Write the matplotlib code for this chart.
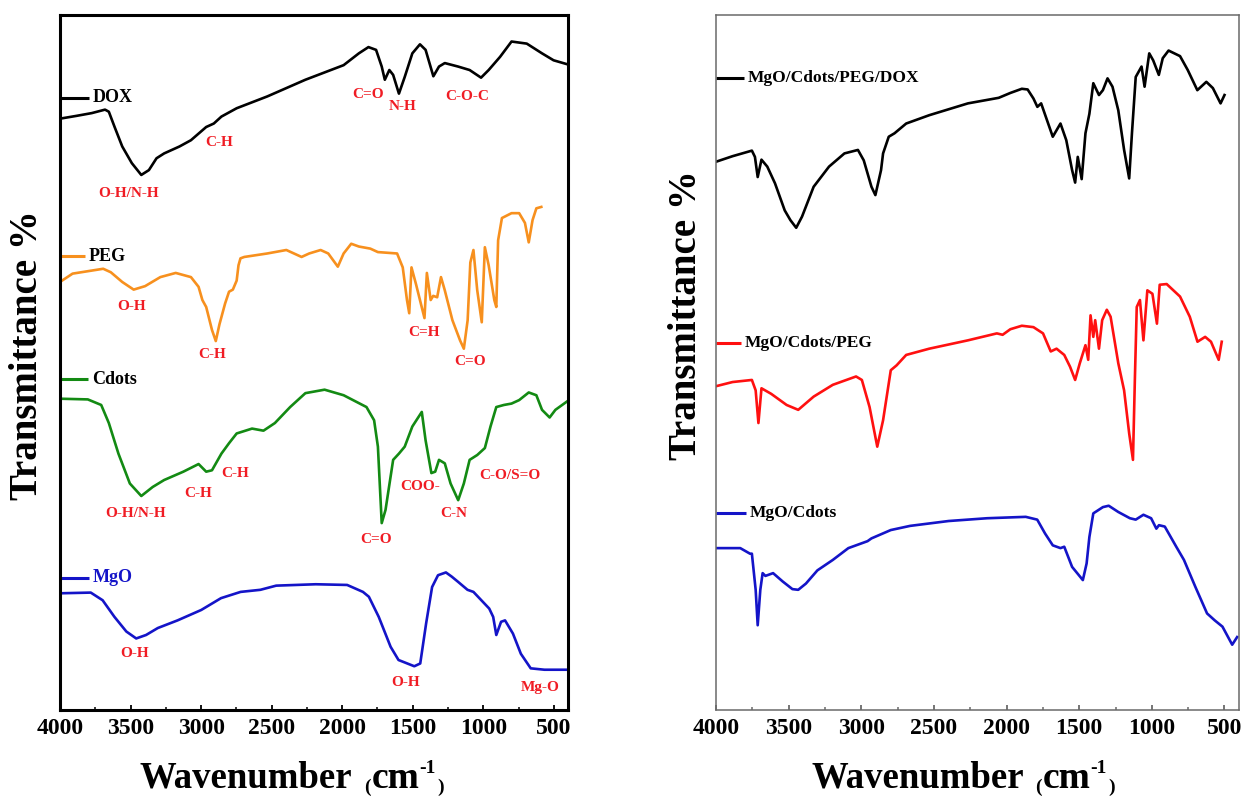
import numpy as np
import matplotlib.pyplot as plt
from matplotlib.ticker import MultipleLocator

plt.rcParams['font.family'] = ['Liberation Serif', 'DejaVu Serif']
plt.rcParams['font.weight'] = 'bold'

# ---- left panel: single components (stacked, arbitrary transmittance units) ----
dox_wn = [4000, 3884, 3775, 3681, 3654, 3613, 3559, 3491, 3424, 3370, 3316, 3262, 3153, 3072,
          2964, 2910, 2856, 2748, 2531, 2261, 1990, 1882, 1814, 1760, 1720, 1698, 1666, 1639,
          1598, 1557, 1503, 1449, 1409, 1354, 1314, 1273, 1179, 1097, 1016, 962, 881, 800,
          692, 584, 502, 400]
dox_t = [85.1, 85.5, 85.9, 86.4, 86.1, 83.9, 81.1, 78.7, 77.0, 77.7, 79.4, 80.1, 81.1, 82.0,
         83.9, 84.4, 85.4, 86.6, 88.3, 90.7, 92.8, 94.5, 95.4, 95.0, 92.6, 90.7, 92.1, 91.4,
         88.7, 91.1, 94.5, 95.8, 95.0, 91.2, 92.6, 93.1, 92.6, 92.1, 91.0, 92.1, 94.0, 96.2,
         95.9, 94.5, 93.5, 92.9]

peg_wn = [4000, 3911, 3694, 3640, 3559, 3478, 3397, 3289, 3180, 3072, 3018, 2991, 2964, 2923,
          2896, 2870, 2830, 2802, 2775, 2748, 2735, 2721, 2694, 2531, 2396, 2288, 2234, 2153,
          2099, 2031, 1990, 1936, 1882, 1801, 1747, 1611, 1571, 1541, 1525, 1509, 1476, 1449,
          1417, 1400, 1373, 1355, 1327, 1300, 1273, 1219, 1165, 1138, 1111, 1092, 1070, 1043,
          1011, 989, 962, 922, 908, 895, 868, 800, 746, 705, 678, 651, 624, 589]
peg_t = [61.6, 62.8, 63.5, 63.0, 61.6, 60.5, 61.0, 62.3, 62.9, 62.3, 60.9, 59.0, 58.0, 54.7,
         53.1, 55.5, 58.5, 60.2, 60.5, 61.8, 64.0, 65.0, 65.2, 65.7, 66.2, 65.2, 65.7, 66.2,
         65.7, 63.8, 65.7, 67.1, 66.7, 66.4, 65.9, 65.7, 63.7, 59.0, 57.1, 63.7, 61.2, 59.0,
         56.4, 62.9, 59.0, 59.6, 59.4, 62.3, 60.4, 56.1, 53.2, 52.0, 56.1, 64.4, 66.2, 60.4,
         55.8, 66.6, 64.0, 59.0, 58.0, 67.6, 70.8, 71.5, 71.5, 70.1, 67.3, 70.5, 72.2, 72.4]

cdots_wn = [4000, 3803, 3708, 3654, 3586, 3505, 3424, 3343, 3262, 3126, 3018, 2964, 2923, 2856,
            2802, 2748, 2639, 2558, 2477, 2369, 2261, 2125, 1990, 1828, 1774, 1747, 1720, 1693,
            1639, 1598, 1557, 1503, 1436, 1409, 1368, 1341, 1314, 1273, 1232, 1178, 1138, 1097,
            1043, 989, 949, 908, 854, 800, 746, 678, 624, 584, 530, 489, 400]
cdots_t = [44.8, 44.7, 43.9, 41.3, 36.9, 32.6, 30.8, 32.1, 33.1, 34.3, 35.4, 34.3, 34.5, 36.9,
           38.4, 39.8, 40.5, 40.2, 41.3, 43.6, 45.6, 46.1, 45.3, 43.6, 41.7, 37.9, 26.9, 28.8,
           36.0, 36.9, 37.9, 40.8, 42.9, 38.8, 34.1, 34.3, 36.0, 35.5, 32.6, 30.2, 32.6, 36.0,
           36.7, 37.7, 40.8, 43.6, 43.9, 44.1, 44.6, 45.7, 45.3, 43.2, 42.1, 43.2, 44.5]

mgo_wn = [4000, 3782, 3698, 3614, 3530, 3460, 3390, 3307, 3167, 2999, 2859, 2720, 2580, 2468,
          2188, 1965, 1853, 1811, 1741, 1657, 1601, 1489, 1447, 1405, 1363, 1321, 1265, 1224,
          1182, 1112, 1070, 958, 930, 908, 874, 846, 790, 734, 664, 567, 400]
mgo_t = [16.8, 16.9, 15.8, 13.4, 11.3, 10.3, 10.8, 11.8, 12.9, 14.4, 16.1, 17.0, 17.3, 17.9,
         18.1, 18.0, 17.0, 16.3, 13.4, 9.1, 7.2, 6.3, 6.7, 12.5, 17.7, 19.4, 19.8, 19.2,
         18.5, 17.3, 17.0, 14.6, 13.4, 10.8, 12.7, 12.9, 11.0, 8.1, 6.0, 5.8, 5.8]

# ---- right panel: composites ----
full_wn = [4000, 3886, 3753, 3732, 3713, 3687, 3647, 3594, 3527, 3488, 3448, 3408, 3328, 3222,
           3116, 3023, 2983, 2930, 2903, 2864, 2850, 2811, 2771, 2691, 2532, 2266, 2054, 1974,
           1895, 1855, 1815, 1788, 1762, 1722, 1682, 1629, 1589, 1549, 1528, 1510, 1483, 1457,
           1430, 1403, 1364, 1337, 1305, 1271, 1231, 1191, 1156, 1137, 1111, 1071, 1050, 1018,
           991, 952, 925, 885, 806, 753, 687, 625, 580, 527, 500]
full_t = [78.9, 79.7, 80.5, 79.6, 76.7, 79.2, 78.2, 75.8, 71.9, 70.5, 69.4, 71.0, 75.3, 78.2,
          80.1, 80.6, 79.1, 75.3, 74.1, 77.7, 80.1, 82.5, 83.0, 84.4, 85.6, 87.3, 88.1, 88.8,
          89.4, 89.3, 88.0, 86.8, 87.3, 84.9, 82.5, 84.4, 82.0, 77.7, 75.9, 79.6, 76.4, 83.0,
          85.8, 90.2, 88.5, 89.2, 90.9, 89.7, 86.3, 80.6, 76.5, 83.0, 91.1, 92.6, 89.7, 94.5,
          93.5, 91.4, 93.8, 94.9, 94.1, 92.1, 89.2, 90.4, 89.5, 87.3, 88.5]

mcp_wn = [4000, 3886, 3753, 3727, 3708, 3687, 3620, 3514, 3434, 3328, 3196, 3036, 2996, 2943,
          2890, 2850, 2797, 2757, 2691, 2532, 2266, 2067, 2027, 1974, 1895, 1815, 1749, 1696,
          1656, 1603, 1563, 1528, 1496, 1457, 1438, 1422, 1403, 1390, 1364, 1342, 1310, 1284,
          1231, 1191, 1156, 1130, 1117, 1104, 1082, 1058, 1031, 996, 965, 946, 898, 806, 739,
          686, 633, 593, 540, 519]
mcp_t = [46.6, 47.2, 47.5, 46.0, 41.3, 46.3, 45.5, 43.9, 43.2, 45.1, 46.8, 48.0, 47.5, 43.6,
         37.9, 41.7, 48.9, 49.6, 51.1, 52.0, 53.2, 54.2, 54.0, 54.8, 55.3, 55.1, 54.2, 51.6,
         52.0, 51.1, 49.4, 47.5, 49.9, 52.5, 50.4, 56.8, 53.7, 56.1, 52.0, 56.1, 57.6, 56.6,
         49.9, 46.0, 39.8, 36.0, 47.5, 58.0, 59.0, 53.2, 60.4, 59.9, 55.6, 61.2, 61.3, 59.5, 56.6,
         53.0, 53.7, 53.0, 50.4, 53.0]

mc_wn = [4000, 3833, 3766, 3753, 3727, 3713, 3695, 3679, 3660, 3607, 3541, 3474, 3434, 3381,
         3302, 3196, 3089, 2957, 2930, 2797, 2664, 2399, 2134, 1868, 1789, 1735, 1682, 1629,
         1603, 1549, 1475, 1449, 1430, 1403, 1337, 1297, 1231, 1151, 1111, 1058, 1005, 969,
         951, 911, 832, 779, 700, 620, 567, 514, 447, 413]
mc_t = [23.3, 23.3, 22.5, 22.5, 17.3, 12.2, 17.3, 19.7, 19.3, 19.7, 18.5, 17.4, 17.3, 18.2,
        20.1, 21.6, 23.3, 24.3, 24.7, 25.9, 26.5, 27.2, 27.6, 27.8, 27.4, 25.4, 23.7, 23.3,
        23.5, 20.6, 18.7, 21.1, 24.9, 28.3, 29.2, 29.4, 28.5, 27.6, 27.4, 28.1, 27.6, 26.1,
        26.6, 26.4, 23.5, 21.6, 17.7, 13.9, 12.9, 12.0, 9.4, 10.5]

# band assignments on the left panel: (text, wavenumber, height)
bands = [
    ("O-H/N-H", 3515, 74.4), ("C-H", 2873, 81.7), ("C=O", 1817, 88.6),
    ("N-H", 1569, 86.8), ("C-O-C", 1112, 88.3),
    ("O-H", 3490, 58.0), ("C-H", 2923, 51.1), ("C=H", 1420, 54.4), ("C=O", 1094, 50.2),
    ("O-H/N-H", 3465, 28.3), ("C-H", 3018, 31.2), ("C-H", 2756, 34.1), ("C=O", 1760, 24.6),
    ("COO-", 1449, 32.1), ("C-N", 1208, 28.3), ("C-O/S=O", 815, 33.7),
    ("O-H", 3475, 8.2), ("O-H", 1548, 4.0), ("Mg-O", 598, 3.2),
]

# series names: (text, wavenumber of text start, height, line colour, text colour)
left_names = [
    ("DOX", 3766, 88.1, 'black', 'black'),
    ("PEG", 3794, 65.3, '#f7901e', 'black'),
    ("Cdots", 3773, 47.6, '#138a13', 'black'),
    ("MgO", 3766, 19.0, '#1414c8', '#1414c8'),
]
right_names = [
    ("MgO/Cdots/PEG/DOX", 3780, 90.9, 'black', 'black'),
    ("MgO/Cdots/PEG", 3801, 52.8, '#ff1010', 'black'),
    ("MgO/Cdots", 3766, 28.3, '#1414c8', 'black'),
]


def style_axes(ax, edge, lw):
    ax.set_xlim(4000, 400)
    ax.set_ylim(0, 100)
    ax.xaxis.set_major_locator(MultipleLocator(500))
    ax.xaxis.set_minor_locator(MultipleLocator(250))
    ax.tick_params(axis='x', which='major', direction='in', length=3.5, width=1.3,
                   color=edge, labelsize=17, pad=6)
    ax.tick_params(axis='x', which='minor', direction='in', length=2.2, width=1.1, color=edge)
    ax.set_yticks([])
    for s in ax.spines.values():
        s.set_color(edge)
        s.set_linewidth(lw)
    for lab in ax.get_xticklabels():
        lab.set_fontweight('bold')


def add_names(ax, names, size):
    for text, wn, t, lc, tc in names:
        ax.plot([4000, wn + 30], [t, t], color=lc, lw=2.2, solid_capstyle='butt', clip_on=False)
        ax.text(wn, t, text, color=tc, fontsize=size, fontweight='bold', ha='left', va='center')


def wavenumber_label(ax, x, y):
    # "Wavenumber (cm-1)" with small brackets and a raised -1
    main = ax.text(x, y, "Wavenumber", transform=ax.figure.transFigure,
                   fontsize=26.5, fontweight='bold', ha='left', va='bottom')
    lp = ax.annotate("(", xy=(1, 0), xycoords=main, xytext=(8, 0), textcoords='offset points',
                     fontsize=14, fontweight='bold', ha='left', va='bottom', annotation_clip=False)
    cm = ax.annotate("cm", xy=(1, 0), xycoords=lp, xytext=(1, 0), textcoords='offset points',
                     fontsize=27, fontweight='bold', ha='left', va='bottom', annotation_clip=False)
    sup = ax.annotate("-1", xy=(1, 1), xycoords=cm, xytext=(0, 1), textcoords='offset points',
                      fontsize=14, fontweight='bold', ha='left', va='top', annotation_clip=False)
    ax.annotate(")", xy=(1, 0), xycoords=(sup, cm), xytext=(1, 0), textcoords='offset points',
                fontsize=14, fontweight='bold', ha='left', va='bottom', annotation_clip=False)
    return main


fig = plt.figure(figsize=(12.45, 7.96), dpi=100)
ax1 = fig.add_axes([0.0482, 0.108, 0.408, 0.873])
ax2 = fig.add_axes([0.5751, 0.108, 0.4201, 0.873])

ax1.plot(dox_wn, dox_t, color='black', lw=1.9)
ax1.plot(peg_wn, peg_t, color='#f7901e', lw=1.9)
ax1.plot(cdots_wn, cdots_t, color='#138a13', lw=1.9)
ax1.plot(mgo_wn, mgo_t, color='#1414c8', lw=1.9)
style_axes(ax1, 'black', 2.2)
add_names(ax1, left_names, 13)
for text, wn, t in bands:
    ax1.text(wn, t, text, color='#f01c24', fontsize=11, fontweight='bold', ha='center', va='center')

ax2.plot(full_wn, full_t, color='black', lw=1.9)
ax2.plot(mcp_wn, mcp_t, color='#ff1010', lw=1.9)
ax2.plot(mc_wn, mc_t, color='#1414c8', lw=1.9)
style_axes(ax2, '#6a6a6a', 1.1)
add_names(ax2, right_names, 12.5)

fig.text(28 / 1245, 1 - 355 / 796, "Transmittance %", rotation=90, fontsize=28,
         fontweight='bold', ha='center', va='center')
fig.text(687 / 1245, 1 - 315 / 796, "Transmittance %", rotation=90, fontsize=28,
         fontweight='bold', ha='center', va='center')

wavenumber_label(ax1, 140 / 1245, 0.0)
wavenumber_label(ax2, 811 / 1245, 0.0)

fig.savefig("out.png", dpi=100)
